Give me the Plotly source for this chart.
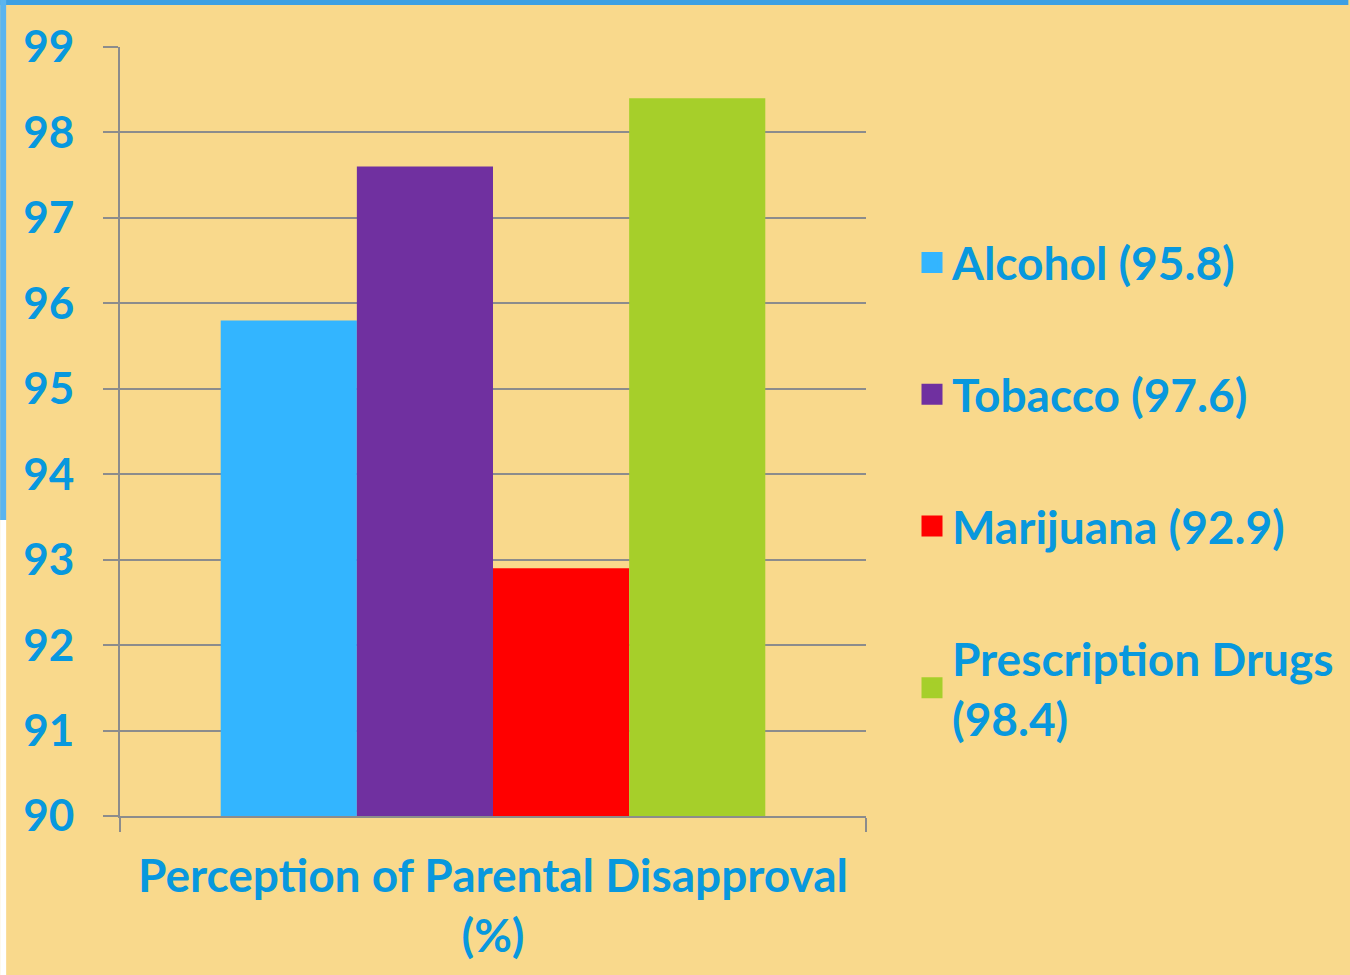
import plotly.graph_objects as go

categories = ["Alcohol", "Tobacco", "Marijuana", "Prescription Drugs"]
values = [95.8, 97.6, 92.9, 98.4]
colors = ["#33B5FF", "#7030A0", "#FF0000", "#A6CF2A"]
x_title = "Perception of Parental Disapproval<br>(%)"
y_ticks = list(range(90, 100))

W, H = 1350, 975
ML, MR, MT, MB = 120, 483, 47, 159
PW, PH = W - ML - MR, H - MT - MB
TEXT = "#0898DE"
GRID = "#8C8C8C"
BG = "#F9D98C"
FONT = "Lato"

def px(x):
    return (x - ML) / PW

def py(y):
    return (H - MB - y) / PH

fig = go.Figure()
for cat, val, col in zip(categories, values, colors):
    fig.add_trace(go.Bar(x=[0], y=[val], name=cat, marker=dict(color=col, line=dict(width=0)),
                         showlegend=False, offsetgroup=cat))
for cat, val, col in zip(categories, values, colors):
    label = f"{cat} ({val})"
    if len(cat) > 12:
        label = f"{cat}<br>({val})"
    fig.add_trace(go.Scatter(x=[None], y=[None], mode="markers", name=label, legendgroup=cat,
                             marker=dict(symbol="square", size=16, color=col,
                                         line=dict(color=col, width=5))))

shapes = [
    dict(type="rect", xref="paper", yref="paper", x0=px(0), x1=px(W), y0=py(5), y1=py(0),
         fillcolor="#3DA0E3", line=dict(width=0), layer="above"),
    dict(type="rect", xref="paper", yref="paper", x0=px(0), x1=px(6), y0=py(520), y1=py(0),
         fillcolor="#5AB4EE", line=dict(width=0), layer="above"),
    dict(type="rect", xref="paper", yref="paper", x0=px(0), x1=px(6), y0=py(H), y1=py(520),
         fillcolor="#FFFFFF", line=dict(width=0), layer="above"),
]

fig.update_layout(
    width=W, height=H,
    margin=dict(l=ML, r=MR, t=MT, b=MB, pad=0),
    paper_bgcolor=BG, plot_bgcolor=BG,
    barmode="group", bargap=0.27, bargroupgap=0,
    font=dict(family=FONT, color=TEXT, size=46, weight="bold"),
    showlegend=True,
    legend=dict(x=px(912), xanchor="left", y=py(226), yanchor="top",
                font=dict(family=FONT, size=46, color=TEXT, weight="bold"),
                tracegroupgap=69, bgcolor="rgba(0,0,0,0)", itemsizing="trace"),
    shapes=shapes,
    xaxis=dict(range=[-0.5, 0.5], tickvals=[-0.5, 0.5], ticktext=["", ""], showticklabels=False,
               ticks="outside", ticklen=14, tickwidth=2, tickcolor=GRID,
               showline=True, linecolor=GRID, linewidth=2, showgrid=False, zeroline=False,
               title=dict(text=x_title, standoff=29,
                          font=dict(family=FONT, size=46, color=TEXT, weight="bold"))),
    yaxis=dict(range=[90, 99], tickvals=y_ticks, ticks="outside", ticklen=15, tickwidth=2,
               tickcolor=GRID, showline=True, linecolor=GRID, linewidth=2,
               showgrid=True, gridcolor=GRID, gridwidth=2, zeroline=False,
               ticklabelstandoff=20,
               tickfont=dict(family=FONT, size=44, color=TEXT, weight="bold")),
)

fig.write_html("out.html", config={"displayModeBar": False},
               post_script="document.body.style.margin='0';document.body.style.padding='0';")
